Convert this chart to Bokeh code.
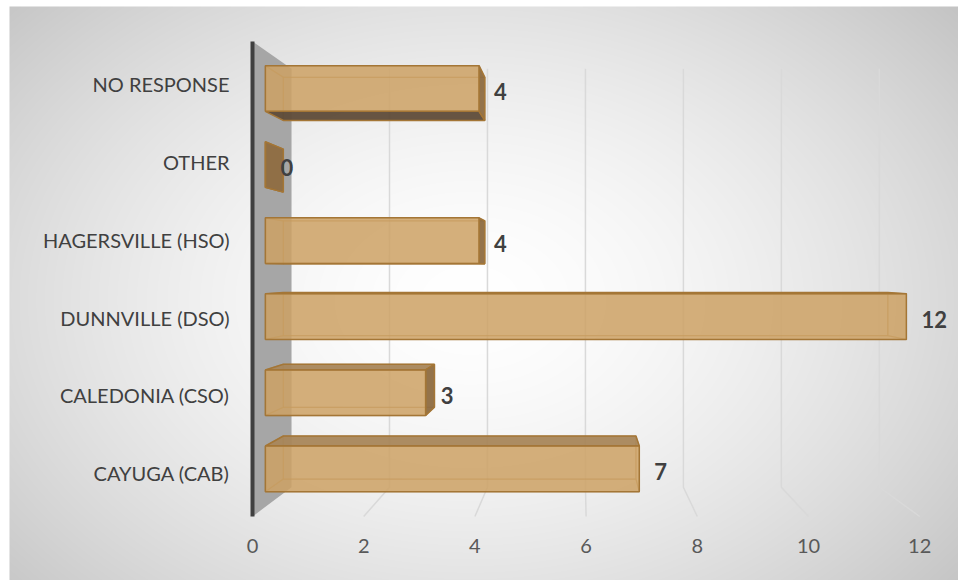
import numpy as np
from bokeh.plotting import figure
from bokeh.models import Range1d
from bokeh.embed import file_html
from bokeh.resources import INLINE
from bokeh.core.properties import value

# ---------------- data ----------------
categories = ["CAYUGA (CAB)", "CALEDONIA (CSO)", "DUNNVILLE (DSO)",
              "HAGERSVILLE (HSO)", "OTHER", "NO RESPONSE"]
counts = [7, 3, 12, 4, 0, 4]
tick_values = [0, 2, 4, 6, 8, 10, 12]
tick_labels = ["0", "2", "4", "6", "8", "10", "12"]

# ---------------- layout ----------------
W, H = 958, 580
X0, XU = 252.0, 55.6      # front-plane pixel of value 0, pixels per unit
Y0, YU = 516.0, 79.17     # front-plane pixel of floor, pixels per category


def dx(px):
    return (px - X0) / XU


def dy(py):
    return (Y0 - py) / YU


p = figure(width=W, height=H, x_range=Range1d(dx(0), dx(W)),
           y_range=Range1d(dy(H), dy(0)), output_backend="svg",
           toolbar_location=None, min_border=0)
p.axis.visible = False
p.grid.visible = False
p.outline_line_color = None
p.background_fill_color = "white"
p.border_fill_color = "white"

VPX, VPY, K = dx(580), dy(270), 0.119
NCAT = len(categories)


def proj(v, y, d):
    s = 1 - K * d
    return VPX + (v - VPX) * s, VPY + (y - VPY) * s


# ---------------- background gradient ----------------
gx0, gy0 = 9, 6
nx, ny = W - gx0, H - gy0
xs = np.arange(nx) + gx0 + 0.5
ys = np.arange(ny) + gy0 + 0.5
XX, YY = np.meshgrid(xs, ys)
t = np.sqrt(((XX - 470) / 560) ** 2 + ((YY - 300) / 400) ** 2)
g = np.clip(255 - 48 * t ** 1.6, 0, 255).astype(np.uint8)
img = np.empty((ny, nx), dtype=np.uint32)
view = img.view(dtype=np.uint8).reshape((ny, nx, 4))
view[..., 0] = g
view[..., 1] = g
view[..., 2] = g
view[..., 3] = 255
img = np.ascontiguousarray(img[::-1])
p.image_rgba(image=[img], x=dx(gx0), y=dy(H), dw=nx / XU, dh=ny / YU)

# ---------------- gridlines (back wall + floor) ----------------
gxs, gys = [], []
for tv in tick_values[1:]:
    xa, ya = proj(tv, 0, 1)
    xb, yb = proj(tv, NCAT, 1)
    xc, yc = proj(tv, 0, 0)
    gxs.append([xb, xa, xc])
    gys.append([yb, ya, yc])
p.multi_line(gxs, gys, line_color="#d9d9d9", line_width=1.5)

# ---------------- side wall ----------------
wall = [proj(0, 0, 0), proj(0, NCAT, 0), proj(0, NCAT, 1), proj(0, 0, 1)]
p.patch([q[0] for q in wall], [q[1] for q in wall],
        fill_color="#a6a6a6", line_color=None)
a0, a1 = proj(0, 0, 0), proj(0, NCAT, 0)
p.line([a0[0], a1[0]], [a0[1], a1[1]], line_color="#404040", line_width=4)

# ---------------- 3D bars ----------------
D1, D2, HB = 0.33, 0.79, 0.3
EDGE = "#a47636"


def face(pts):
    P = [proj(*q) for q in pts]
    return [a for a, _ in P], [b for _, b in P]


hid_x, hid_y = [], []
vis_x, vis_y, vis_c = [], [], []
fr_x, fr_y = [], []
for i, v in enumerate(counts):
    yc = i + 0.5
    y1, y2 = yc - HB, yc + HB
    back = face([(0, y1, D2), (v, y1, D2), (v, y2, D2), (0, y2, D2)])
    left = face([(0, y1, D1), (0, y2, D1), (0, y2, D2), (0, y1, D2)])
    top = face([(0, y2, D1), (v, y2, D1), (v, y2, D2), (0, y2, D2)])
    bot = face([(0, y1, D1), (v, y1, D1), (v, y1, D2), (0, y1, D2)])
    end = face([(v, y1, D1), (v, y2, D1), (v, y2, D2), (v, y1, D2)])
    front = face([(0, y1, D1), (v, y1, D1), (v, y2, D1), (0, y2, D1)])
    hidden = [back, left]
    if y2 < VPY:
        vis_x.append(top[0]); vis_y.append(top[1]); vis_c.append("#a8865a")
        hidden.append(bot)
    else:
        hidden.append(top)
    if y1 > VPY:
        vis_x.append(bot[0]); vis_y.append(bot[1]); vis_c.append("#5e4b38")
    if v < VPX:
        vis_x.append(end[0]); vis_y.append(end[1]); vis_c.append("#8e6c40")
    else:
        hidden.append(end)
    for hx, hy in hidden:
        hid_x.append(hx); hid_y.append(hy)
    fr_x.append(front[0]); fr_y.append(front[1])

p.patches(hid_x, hid_y, fill_alpha=0, line_color=EDGE, line_alpha=0.45,
          line_width=1.2)
p.patches(vis_x, vis_y, fill_color=vis_c, fill_alpha=0.95, line_color=EDGE,
          line_width=1.5)
p.patches(fr_x, fr_y, fill_color="#cda164", fill_alpha=0.85, line_color=EDGE,
          line_width=1.5)

# ---------------- value labels ----------------
lab = [proj(v, i + 0.5, D1) for i, v in enumerate(counts)]
p.text(x=[q[0] for q in lab], y=[q[1] for q in lab],
       text=[str(c) for c in counts], x_offset=15, y_offset=3,
       text_font=value("Lato"), text_font_style="bold", text_font_size="22px",
       text_color="#404040", text_baseline="middle", text_align="left")

# ---------------- category labels ----------------
cat_y = [proj(0, i + 0.5, 0.15)[1] for i in range(NCAT)]
p.text(x=[dx(229)] * NCAT, y=cat_y, text=categories,
       text_font=value("Lato"), text_font_size="20px", text_color="#404040",
       text_baseline="middle", text_align="right")

# ---------------- value-axis tick labels ----------------
tick_x = [proj(tv, 0, 0)[0] for tv in tick_values]
p.text(x=tick_x, y=[dy(545)] * len(tick_values), text=tick_labels,
       text_font=value("Lato"), text_font_size="20px", text_color="#595959",
       text_baseline="middle", text_align="center")

open("out.html", "w").write(file_html(p, INLINE))
